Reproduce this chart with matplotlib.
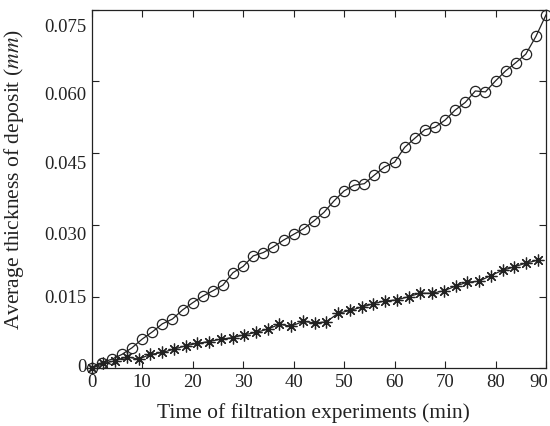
import numpy as np
import matplotlib
matplotlib.use("Agg")
import matplotlib.pyplot as plt
from matplotlib.transforms import ScaledTranslation

# circles: sampled every 2 min
t_circle = [0, 2, 4, 6, 8, 10, 12, 14, 16, 18, 20, 22, 24, 26, 28, 30, 32, 34, 36, 38,
            40, 42, 44, 46, 48, 50, 52, 54, 56, 58, 60, 62, 64, 66, 68, 70, 72, 74, 76, 78,
            80, 82, 84, 86, 88, 90]
h_circle = [0.0000, 0.0012, 0.0019, 0.0029, 0.0043, 0.0061, 0.0076, 0.0093, 0.0103, 0.0122,
            0.0137, 0.0151, 0.0162, 0.0174, 0.0200, 0.0213, 0.0235, 0.0242, 0.0254, 0.0268,
            0.0280, 0.0292, 0.0308, 0.0326, 0.0350, 0.0371, 0.0383, 0.0386, 0.0404, 0.0421,
            0.0431, 0.0462, 0.0481, 0.0499, 0.0504, 0.0519, 0.0540, 0.0556, 0.0580, 0.0578,
            0.0601, 0.0622, 0.0639, 0.0657, 0.0694, 0.0739]

# asterisks
t_star = [0, 2.3, 4.7, 7.0, 9.3, 11.6, 14.0, 16.3, 18.6, 20.9, 23.3, 25.6, 27.9, 30.2,
          32.6, 34.9, 37.2, 39.5, 41.9, 44.2, 46.5, 48.8, 51.2, 53.5, 55.8, 58.1, 60.5,
          62.8, 65.1, 67.4, 69.8, 72.1, 74.4, 76.7, 79.1, 81.4, 83.7, 86.0, 88.4]
h_star = [0.0000, 0.0010, 0.0016, 0.0024, 0.0019, 0.0029, 0.0033, 0.0040, 0.0047, 0.0052,
          0.0056, 0.0061, 0.0064, 0.0070, 0.0075, 0.0082, 0.0092, 0.0088, 0.0098, 0.0095,
          0.0097, 0.0115, 0.0121, 0.0128, 0.0135, 0.0141, 0.0143, 0.0150, 0.0157, 0.0157,
          0.0162, 0.0172, 0.0180, 0.0182, 0.0194, 0.0205, 0.0212, 0.0220, 0.0226]

x_ticks = [0, 10, 20, 30, 40, 50, 60, 70, 80, 90]
y_ticks = [0, 0.015, 0.030, 0.045, 0.060, 0.075]
y_ticklabels = ["0", "0.015", "0.030", "0.045", "0.060", "0.075"]

plt.rcParams["font.family"] = "serif"
plt.rcParams["font.serif"] = ["Liberation Serif", "DejaVu Serif"]
plt.rcParams["mathtext.fontset"] = "stix"

fig = plt.figure(figsize=(5.5, 4.26), dpi=100)
ax = fig.add_axes([0.1667, 0.1355, 0.8260, 0.8418])

col = "#222222"
ax.plot(t_circle, h_circle, color=col, lw=0.9, marker="o", ms=7.4,
        mfc="none", mec=col, mew=0.9, clip_on=False, zorder=3)
ax.plot(t_star, h_star, color=col, lw=0.9, marker=(8, 2, 0), ms=8.5,
        mec=col, mew=0.9, clip_on=False, zorder=3)

ax.set_xlim(0, 90)
ax.set_ylim(0, 0.075)
ax.set_xticks(x_ticks)
ax.set_yticks(y_ticks)
ax.set_yticklabels(y_ticklabels)
ax.tick_params(direction="in", top=True, right=True, length=5, width=0.8,
               labelsize=13.5, colors=col, pad=4)
for s in ax.spines.values():
    s.set_linewidth(0.9)
    s.set_color(col)

# the y tick labels in the original sit a bit off their ticks
y_label_shift = [3, 0, -9, -9, -12, -16]
for lab, dy in zip(ax.get_yticklabels(), y_label_shift):
    lab.set_transform(lab.get_transform() + ScaledTranslation(0, dy / 100, fig.dpi_scale_trans))
last = ax.get_xticklabels()[-1]
last.set_transform(last.get_transform() + ScaledTranslation(-7 / 100, 0, fig.dpi_scale_trans))

ax.set_xlabel("Time of filtration experiments (min)", fontsize=15.5, color=col)
ax.set_ylabel("Average thickness of deposit ($mm$)", fontsize=15.5, color=col)
ax.xaxis.set_label_coords(0.488, -0.097)
ax.yaxis.set_label_coords(-0.145, 0.525)

fig.savefig("out.png", dpi=100)
